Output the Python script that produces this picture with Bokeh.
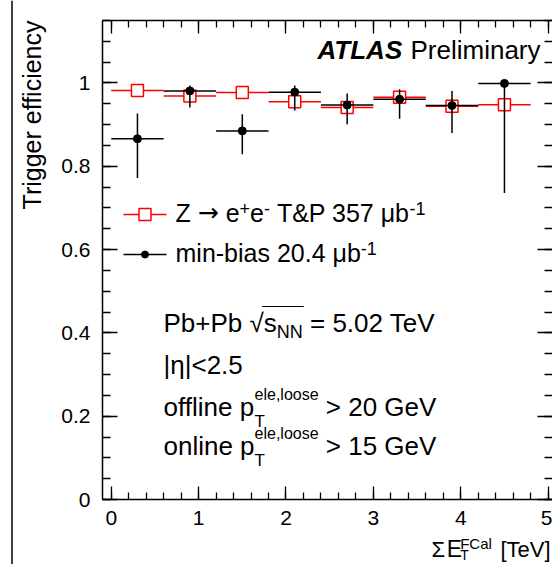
import math
import numpy as np
from bokeh.plotting import figure
from bokeh.models import (Label, LinearAxis, Range1d, FixedTicker,
                          CustomJSTickFormatter)
from bokeh.layouts import row, column
from bokeh.embed import file_html
from bokeh.resources import INLINE

# ---------------- data ----------------
bin_edges = [0.0, 0.6, 1.2, 1.8, 2.4, 3.0, 3.6, 4.2, 4.8]
zee_eff = [0.982, 0.969, 0.977, 0.955, 0.941, 0.966, 0.944, 0.948]
zee_err = [0.004, 0.005, 0.005, 0.007, 0.008, 0.008, 0.010, 0.012]
mb_eff = [0.866, 0.981, 0.885, 0.978, 0.947, 0.961, 0.946, 0.999]
mb_hi = [0.927, 0.994, 0.925, 0.994, 0.975, 0.985, 0.981, 0.999]
mb_lo = [0.772, 0.941, 0.829, 0.934, 0.901, 0.914, 0.880, 0.736]
x_ticks = [0, 1, 2, 3, 4, 5]
y_ticks = [0, 0.2, 0.4, 0.6, 0.8, 1.0]

# ---------------- geometry ----------------
FONT = "Liberation Sans"
WIN_W, WIN_H = 552, 564
LEFT_W = 50                 # left strip (frame line + y title)
MAIN_W, MAIN_H = WIN_W - LEFT_W, 534
BOT_H = WIN_H - MAIN_H      # strip with the x title
ML, MT, MB = 52, 20, 35
X0, X1 = -0.1, 5.05
Y0, Y1 = 0.0, 1.15
FRAME_L = LEFT_W + ML
FRAME_B = MAIN_H - MB
FW = MAIN_W - ML
FH = MAIN_H - MT - MB
BASE = 0.36   # label anchor sits this many em above the text baseline


def dx(px):
    return X0 + (px - FRAME_L) * (X1 - X0) / FW


def dy(py):
    return Y0 + (FRAME_B - py) * (Y1 - Y0) / FH


WID = {' ': .278, '+': .584, ',': .278, '-': .333, '.': .278, '<': .584,
       '=': .584, '>': .584, '&': .667, '[': .278, ']': .278, '|': .26,
       'A': .667, 'C': .722, 'E': .667, 'F': .611, 'G': .778, 'L': .556,
       'N': .722, 'P': .667, 'S': .667, 'T': .611, 'V': .667, 'Z': .611,
       'a': .556, 'b': .556, 'c': .5, 'e': .556, 'f': .278, 'g': .556,
       'i': .222, 'l': .222, 'm': .833, 'n': .556, 'o': .556, 'p': .556,
       'r': .333, 's': .5, 'y': .5, 'μ': .576, 'η': .556, '→': .838,
       '√': .549, 'Σ': .6}
for d in "0123456789":
    WID[d] = .556


def tw(t, size):
    return sum(WID.get(c, .556) for c in t) * size


p = figure(width=MAIN_W, height=MAIN_H, x_range=Range1d(X0, X1),
           y_range=Range1d(Y0, Y1), x_axis_type=None, y_axis_type=None,
           output_backend="svg", toolbar_location=None, min_border_left=ML,
           min_border_right=0, min_border_top=MT, min_border_bottom=MB)
p.outline_line_color = None
p.background_fill_color = "white"
p.border_fill_color = "white"

fmt = CustomJSTickFormatter(code="return (Math.round(tick*100)/100).toString();")
blank = CustomJSTickFormatter(code="return '';")
x_minor = list(np.round(np.arange(-0.0, 5.21, 0.2), 3))
y_minor = list(np.round(np.arange(0.0, 1.151, 0.05), 3))


def make_axis(ticks, minor, maj, mnr, labels, standoff=0):
    ax = LinearAxis(ticker=FixedTicker(ticks=ticks, minor_ticks=minor),
                    formatter=fmt if labels else blank)
    ax.axis_line_color = "black"
    ax.axis_line_width = 1.5
    ax.major_tick_in = maj
    ax.major_tick_out = 0
    ax.minor_tick_in = mnr
    ax.minor_tick_out = 0
    ax.major_tick_line_color = "black"
    ax.minor_tick_line_color = "black"
    ax.major_tick_line_width = 1.3
    ax.minor_tick_line_width = 1.3
    if labels:
        ax.major_label_text_font = FONT
        ax.major_label_text_font_size = "21px"
        ax.major_label_text_color = "black"
        ax.major_label_standoff = standoff
    else:
        ax.major_label_text_font_size = "0px"
        ax.major_label_standoff = 0
    return ax


p.add_layout(make_axis(x_ticks, x_minor, 13, 7, True, 11), "below")
p.add_layout(make_axis(x_ticks, x_minor, 13, 7, False), "above")
p.add_layout(make_axis(y_ticks, y_minor, 15, 8, True, 12), "left")
rax = make_axis(y_ticks, y_minor, 15, 8, False)
rax.axis_line_color = None
p.add_layout(rax, "right")

# ---------------- data marks ----------------
lo = bin_edges[:-1]
hi = bin_edges[1:]
cen = [(a + b) / 2 for a, b in zip(lo, hi)]
SQ = 12
gx = (SQ / 2) * (X1 - X0) / FW
gy = (SQ / 2) * (Y1 - Y0) / FH
RED = "#ff0000"

p.segment(x0=lo, y0=zee_eff, x1=[c - gx for c in cen], y1=zee_eff,
          line_color=RED, line_width=1.5)
p.segment(x0=[c + gx for c in cen], y0=zee_eff, x1=hi, y1=zee_eff,
          line_color=RED, line_width=1.5)
up_y0 = [e + gy for e in zee_eff]
up_y1 = [max(e + r, e + gy) for e, r in zip(zee_eff, zee_err)]
dn_y0 = [e - gy for e in zee_eff]
dn_y1 = [min(e - r, e - gy) for e, r in zip(zee_eff, zee_err)]
p.segment(x0=cen, y0=up_y0, x1=cen, y1=up_y1, line_color=RED, line_width=1.5)
p.segment(x0=cen, y0=dn_y0, x1=cen, y1=dn_y1, line_color=RED, line_width=1.5)
p.scatter(cen, zee_eff, marker="square", size=SQ, fill_color=None,
          line_color=RED, line_width=1.5)

p.segment(x0=lo, y0=mb_eff, x1=hi, y1=mb_eff, line_color="black", line_width=1.5)
p.segment(x0=cen, y0=mb_lo, x1=cen, y1=mb_hi, line_color="black", line_width=1.5)
p.scatter(cen, mb_eff, marker="circle", size=8, fill_color="black",
          line_color="black")

# ---------------- text helpers ----------------


def lab(fig, x, y, text, size, style="normal", align="left", angle=0.0,
        font=FONT):
    fig.add_layout(Label(x=x, y=y, text=text, text_font=font,
                         text_font_size=f"{size}px", text_font_style=style,
                         text_color="black", text_baseline="alphabetic",
                         text_align=align, angle=angle))


def plab(x_px, y_px, text, size, style="normal"):
    """Place text in the main plot; (x_px, y_px) = start of baseline in window px."""
    lead = len(text) - len(text.lstrip(" "))
    x_px += lead * WID[" "] * size
    font = "DejaVu Sans" if text.strip(" ") == "→" else FONT
    lab(p, dx(x_px), dy(y_px - BASE * size), text.strip(" "), size, style,
        font=font)


def rich(x_px, y_px, pieces):
    x = x_px
    spans = {}
    for pc in pieces:
        if pc[0] == "stack":
            _, sub, sup = pc
            plab(x, y_px + sub[2], sub[0], sub[1])
            plab(x, y_px + sup[2], sup[0], sup[1])
            x += max(tw(sub[0], sub[1]), tw(sup[0], sup[1]))
        else:
            txt, size, off = pc[0], pc[1], pc[2]
            plab(x, y_px + off, txt, size)
            spans[txt] = (x, x + tw(txt, size))
            x += tw(txt, size)
    return x, spans


F = 25      # legend text
FA = 26     # annotation text
SUP = 18
# ATLAS Preliminary
plab(317, 59, "ATLAS", 26, "bold italic")
plab(410, 59, "Preliminary", 26)

# legend
LX0, LX1, LXM = 123, 166, 144.5
ly1, ly2 = 214, 254
p.segment(x0=[dx(LX0), dx(LXM + SQ / 2)], y0=[dy(ly1)] * 2,
          x1=[dx(LXM - SQ / 2), dx(LX1)], y1=[dy(ly1)] * 2,
          line_color=RED, line_width=1.5)
p.scatter([dx(LXM)], [dy(ly1)], marker="square", size=SQ, fill_color=None,
          line_color=RED, line_width=1.5)
p.segment(x0=[dx(LX0)], y0=[dy(ly2)], x1=[dx(LX1)], y1=[dy(ly2)],
          line_color="black", line_width=1.5)
p.scatter([dx(LXM)], [dy(ly2)], marker="circle", size=7, fill_color="black",
          line_color="black")

rich(175, 221, [("Z ", F, 0), ("→", F, 0), (" e", F, 0), ("+", SUP, -7),
                ("e", F, 0), ("-", SUP, -7), (" T&P 357 μb", F, 0),
                ("-1", SUP, -7)])
rich(175, 261, [("min-bias 20.4 μb", F, 0), ("-1", SUP, -7)])

# annotations
B1 = 332
end, sp = rich(163, B1, [("Pb+Pb ", FA, 0), ("√", FA, 0), ("s", FA, 0),
                         ("NN", SUP, 6), (" = 5.02 TeV", FA, 0)])
ox0 = sp["√"][1] - 1.5
ox1 = sp["NN"][1] + 1
p.segment(x0=[dx(ox0)], y0=[dy(B1 - 26)], x1=[dx(ox1)], y1=[dy(B1 - 26)],
          line_color="black", line_width=1.2)
rich(163, 374, [("|η|<2.5", FA, 0)])
rich(163, 416, [("offline p", FA, 0),
                ("stack", ("T", 17, 11), ("ele,loose", 16, -16)),
                (" > 20 GeV", FA, 0)])
rich(163, 455, [("online p", FA, 0),
                ("stack", ("T", 17, 11), ("ele,loose", 16, -16)),
                (" > 15 GeV", FA, 0)])

# ---------------- left strip: frame line + y title ----------------
lf = figure(width=LEFT_W, height=WIN_H, x_range=Range1d(0, LEFT_W),
            y_range=Range1d(0, WIN_H), x_axis_type=None, y_axis_type=None,
            output_backend="svg", toolbar_location=None, min_border=0)
lf.outline_line_color = None
lf.background_fill_color = "white"
lf.border_fill_color = "white"
lf.segment(x0=[11.5], y0=[0], x1=[11.5], y1=[WIN_H], line_color="black",
           line_width=1.5)
lab(lf, 40 - BASE * 25, WIN_H - 20, "Trigger efficiency", 25, align="right",
    angle=math.pi / 2)

# ---------------- bottom strip: x title ----------------
bf = figure(width=MAIN_W, height=BOT_H, x_range=Range1d(LEFT_W, WIN_W),
            y_range=Range1d(0, BOT_H), x_axis_type=None, y_axis_type=None,
            output_backend="svg", toolbar_location=None, min_border=0)
bf.outline_line_color = None
bf.background_fill_color = "white"
bf.border_fill_color = "white"


def blab(x_px, y_px, text, size):
    lab(bf, x_px, WIN_H - (y_px - BASE * size), text, size)


blab(417, 557, "Σ", 22)
blab(434, 557, "E", 23)
blab(449, 560, "T", 14)
blab(449, 548, "FCal", 15)
blab(494, 557, "[TeV]", 22)

layout = row(lf, column(p, bf, spacing=0), spacing=0)

open("out.html", "w").write(file_html(layout, INLINE))
